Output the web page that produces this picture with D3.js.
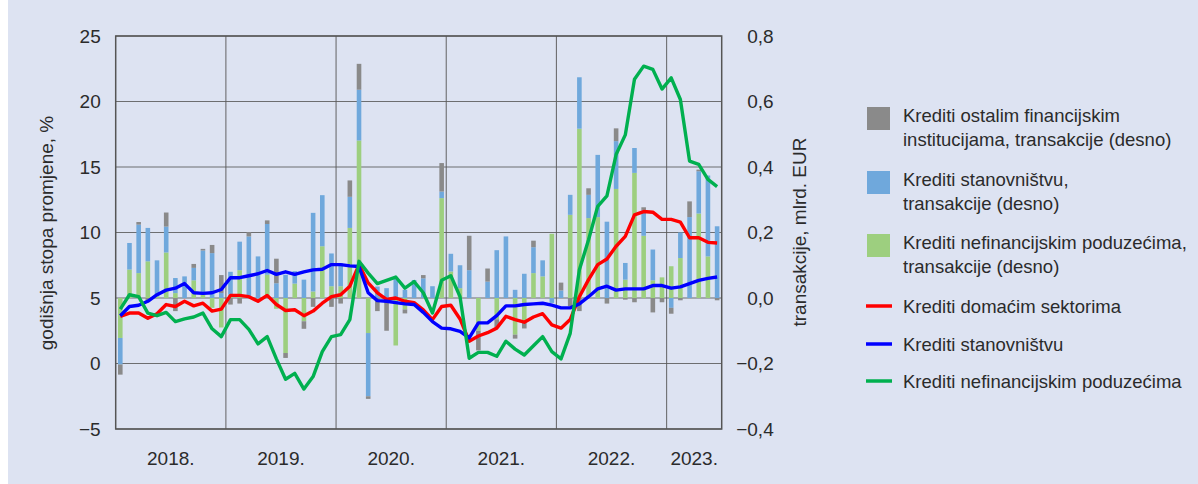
<!DOCTYPE html>
<html><head><meta charset="utf-8">
<script src="https://cdn.jsdelivr.net/npm/d3@7"></script>
<style>
html,body{margin:0;padding:0;background:#ffffff;}
svg{display:block;}
text{font-family:"Liberation Sans Narrow","Arial Narrow","Liberation Sans",sans-serif;fill:#2b2b2b;}
</style></head>
<body>
<svg id="chart" width="1198" height="484"></svg>
<script>
const months = ["2018-01","2018-02","2018-03","2018-04","2018-05","2018-06","2018-07","2018-08","2018-09","2018-10","2018-11","2018-12",
"2019-01","2019-02","2019-03","2019-04","2019-05","2019-06","2019-07","2019-08","2019-09","2019-10","2019-11","2019-12",
"2020-01","2020-02","2020-03","2020-04","2020-05","2020-06","2020-07","2020-08","2020-09","2020-10","2020-11","2020-12",
"2021-01","2021-02","2021-03","2021-04","2021-05","2021-06","2021-07","2021-08","2021-09","2021-10","2021-11","2021-12",
"2022-01","2022-02","2022-03","2022-04","2022-05","2022-06","2022-07","2022-08","2022-09","2022-10","2022-11","2022-12",
"2023-01","2023-02","2023-03","2023-04","2023-05","2023-06"];
const yearLabels = ["2018.","2019.","2020.","2021.","2022.","2023."];
const leftTicks = [-5,0,5,10,15,20,25];
const rightTicks = [-0.4,-0.2,0.0,0.2,0.4,0.6,0.8];

// Transactions, mlrd. EUR (right axis)
const ofiTrans = [-0.031,0,0.008,-0.01,0,0.043,-0.04,0,0.012,0.005,0.025,0.055,
-0.02,-0.017,0.013,0,0.011,0.075,-0.015,0,-0.023,-0.027,0,-0.027,
-0.017,0.05,0.079,-0.008,-0.04,-0.1,0,-0.012,0,0.01,0,0.087,
0,0,0.105,-0.06,0.04,-0.025,0,-0.012,-0.017,0.02,0,0,
0.024,-0.025,-0.04,0.02,0,-0.017,0.039,-0.005,-0.013,0.008,-0.044,-0.013,
-0.018,-0.007,0.048,0.005,0,-0.007];
const hhTrans = [-0.081,0.081,0.148,0.102,0.11,0.079,0.046,0.066,0.038,0.135,0.137,0.015,
0.07,0.087,0.188,0.127,0.155,0.045,0.071,0.038,0.056,0.24,0.156,0.1,
0.07,0.095,0.155,-0.193,0.035,0.03,0.06,0.025,0.055,0.06,0.036,0.02,
0.054,0.07,0.085,0,0.05,0.146,0.188,0.025,0.074,0.079,0.049,-0.015,
0.023,0.061,0.157,0.071,0.19,0.233,0.146,0.051,0.076,0.079,0.094,0,
-0.03,0.078,0.247,0.129,0.247,0.219];
const nfcTrans = [-0.122,0.087,0.076,0.112,0.005,0.139,0.015,0,0.054,0.01,-0.03,-0.09,
0.01,0.085,0,0,0.071,-0.033,-0.168,0.044,-0.071,0.02,0.158,0.036,
0.036,0.214,0.481,-0.107,0,0,-0.145,-0.035,0,0,0,0.305,
0.081,0.03,0,-0.1,0,-0.065,0,-0.112,-0.076,0.076,0.066,0.196,
0,0.254,0.517,0.244,0.247,0,0.333,0.056,0.382,0.19,0.054,0.063,
0.097,0.122,0,0.258,0.127,0];

// Annual growth rates, % (left axis)
const domesticRate = [3.6,3.85,3.85,3.45,3.8,4.5,4.35,4.75,4.4,4.6,4.0,4.15,
5.2,5.2,5.1,4.75,5.2,4.5,4.05,4.1,3.65,4.0,4.6,5.1,
5.25,5.9,7.55,6.15,5.4,4.9,5.0,4.75,4.65,4.1,3.35,4.35,
4.45,3.4,1.7,2.1,2.35,2.7,3.6,3.35,3.15,3.55,3.8,2.95,
2.7,3.35,5.1,6.4,7.55,7.98,8.95,9.7,11.35,11.6,11.55,11.0,
11.0,10.8,9.6,9.6,9.25,9.2];
const householdRate = [3.65,4.35,4.45,4.75,5.25,5.6,5.75,6.1,5.4,5.35,5.4,5.65,
6.55,6.55,6.7,6.85,7.1,6.8,7.0,6.8,7.0,7.15,7.2,7.55,
7.55,7.45,7.4,5.4,4.8,4.75,4.65,4.55,4.5,3.9,3.2,2.7,
2.65,2.45,1.95,3.1,3.1,3.65,4.4,4.4,4.5,4.55,4.6,4.45,
4.25,4.25,4.55,5.1,5.7,5.9,5.6,5.7,5.7,5.7,5.95,5.95,
5.75,5.85,6.1,6.35,6.5,6.6];
const nfcRate = [4.15,5.25,5.1,3.85,3.65,3.9,3.2,3.4,3.55,3.85,2.65,2.05,
3.35,3.35,2.6,1.5,2.05,0.35,-1.2,-0.75,-1.95,-1.0,0.9,2.05,
2.2,3.35,7.8,6.9,6.1,6.35,6.6,5.75,6.25,5.4,3.85,6.35,
6.7,5.1,0.4,0.85,0.85,0.55,1.7,1.1,0.65,1.35,2.05,0.9,
0.35,2.3,7.15,9.45,12.0,12.8,15.95,17.45,21.7,22.7,22.45,20.95,
21.8,20.15,15.45,15.2,14.05,13.5];

const barKeys = ["nfc","hh","ofi"];
const barNames = {
  ofi:["Krediti ostalim financijskim","institucijama, transakcije (desno)"],
  hh:["Krediti stanovništvu,","transakcije (desno)"],
  nfc:["Krediti nefinancijskim poduzećima,","transakcije (desno)"]
};
const barColors = {ofi:"#8a8a8a", hh:"#6fa8dc", nfc:"#9dcf7f"};
const lineSeries = [
  {name:"Krediti domaćim sektorima", values:domesticRate, color:"#ff0000"},
  {name:"Krediti stanovništvu", values:householdRate, color:"#0000ff"},
  {name:"Krediti nefinancijskim poduzećima", values:nfcRate, color:"#00b04f"}
];

const svg = d3.select("#chart");
svg.append("rect").attr("x",8).attr("y",0).attr("width",1190).attr("height",484).attr("fill","#dde3f2");

const L = 115.7, R = 721.7, T = 36, B = 429;
const x = d3.scaleBand().domain(months).range([L,R]).paddingInner(0.5).paddingOuter(0.25);
const yL = d3.scaleLinear().domain([-5,25]).range([B,T]);
const yR = d3.scaleLinear().domain([-0.4,0.8]).range([B,T]);
const cx = m => x(m) + x.bandwidth()/2;
const boundary = m => x(m) - x.step()*x.paddingInner()/2;

// grid
const grid = svg.append("g");
grid.selectAll("line.h").data(leftTicks).join("line")
  .attr("x1",L).attr("x2",R).attr("y1",d=>yL(d)).attr("y2",d=>yL(d))
  .attr("stroke","#5a5a5a").attr("stroke-width",1.1).attr("opacity",0.85);
const yearStarts = months.filter(m=>m.endsWith("-01")).slice(1);
grid.selectAll("line.v").data(yearStarts).join("line")
  .attr("x1",d=>boundary(d)).attr("x2",d=>boundary(d)).attr("y1",T).attr("y2",B)
  .attr("stroke","#5a5a5a").attr("stroke-width",1.1).attr("opacity",0.85);

// bars
const table = months.map((m,i)=>({month:m, ofi:ofiTrans[i], hh:hhTrans[i], nfc:nfcTrans[i]}));
const stack = d3.stack().keys(barKeys).offset(d3.stackOffsetDiverging)(table);
svg.append("g").selectAll("g").data(stack).join("g").attr("fill",d=>barColors[d.key])
  .selectAll("rect").data(d=>d).join("rect")
  .attr("x",d=>x(d.data.month)).attr("width",x.bandwidth())
  .attr("y",d=>yR(Math.max(d[0],d[1]))).attr("height",d=>Math.abs(yR(d[0])-yR(d[1])));

// lines
const line = d3.line().x((d,i)=>cx(months[i])).y(d=>yL(d));
svg.append("g").selectAll("path").data(lineSeries).join("path")
  .attr("d",d=>line(d.values)).attr("fill","none").attr("stroke",d=>d.color)
  .attr("stroke-width",3.4).attr("stroke-linejoin","round");

// border
svg.append("rect").attr("x",L).attr("y",T).attr("width",R-L).attr("height",B-T)
  .attr("fill","none").attr("stroke","#555").attr("stroke-width",1.5);

// axes
const fmtR = d => (d<0?"\u2212":"") + Math.abs(d).toFixed(1).replace(".",",");
const fmtL = d => (d<0?"\u2212":"") + Math.abs(d);
const axL = svg.append("g").attr("transform",`translate(${L-15},0)`)
  .call(d3.axisLeft(yL).tickValues(leftTicks).tickFormat(fmtL).tickSize(0).tickPadding(0));
const axR = svg.append("g").attr("transform",`translate(${R+52},0)`)
  .call(d3.axisLeft(yR).tickValues(rightTicks).tickFormat(fmtR).tickSize(0).tickPadding(0));
[axL,axR].forEach(a=>{a.select(".domain").remove(); a.selectAll("text").attr("font-size",19).attr("fill","#2b2b2b").attr("font-family",null);});

// x labels
const yearGroups = d3.groups(months, m=>m.slice(0,4));
svg.append("g").selectAll("text").data(yearGroups).join("text")
  .attr("x",(d)=> (boundary(d[1][0]) + (boundary(d[1][d[1].length-1]) + x.step()))/2)
  .attr("y",465).attr("text-anchor","middle").attr("font-size",19)
  .text((d,i)=>yearLabels[i]);

// axis titles
svg.append("text").attr("transform","translate(53,233) rotate(-90)").attr("text-anchor","middle")
  .attr("font-size",19).text("godišnja stopa promjene, %");
svg.append("text").attr("transform","translate(806,232) rotate(-90)").attr("text-anchor","middle")
  .attr("font-size",19).text("transakcije, mlrd. EUR");

// legend
const lg = svg.append("g");
const sq = [{k:"ofi",y:107},{k:"hh",y:171},{k:"nfc",y:234}];
sq.forEach(s=>{
  lg.append("rect").attr("x",867).attr("y",s.y).attr("width",23).attr("height",23).attr("fill",barColors[s.k]);
  barNames[s.k].forEach((t,j)=>{
    lg.append("text").attr("x",903).attr("y",s.y+15+j*24).attr("font-size",18.5).text(t);
  });
});
const ly = [306,344,381];
lineSeries.forEach((s,i)=>{
  lg.append("line").attr("x1",866).attr("x2",892).attr("y1",ly[i]).attr("y2",ly[i]).attr("stroke",s.color).attr("stroke-width",3.5);
  lg.append("text").attr("x",903).attr("y",ly[i]+7).attr("font-size",18.5).text(s.name);
});
</script>
</body></html>
